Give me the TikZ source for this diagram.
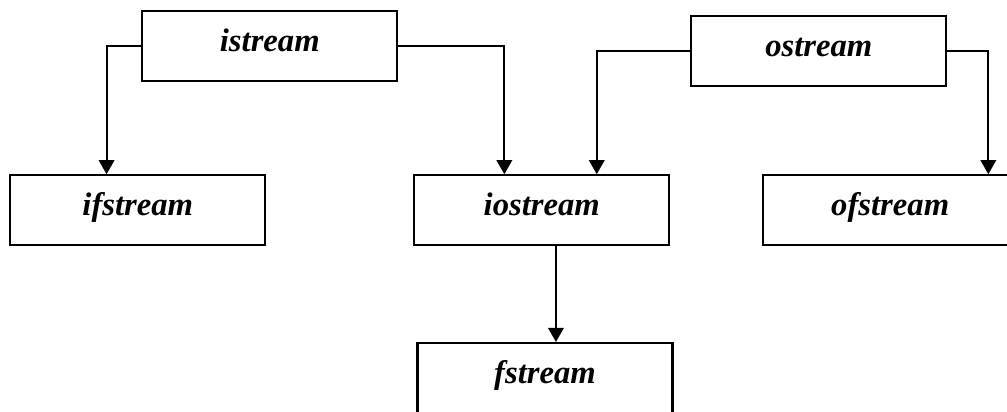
\documentclass[tikz,border=0pt]{standalone}
\usepackage{fontspec}
\setmainfont{Liberation Serif}
\usetikzlibrary{arrows.meta}
\begin{document}
\begin{tikzpicture}[x=0.75pt,y=-0.75pt,
  cls/.style={draw, line width=1.6pt, minimum width=191.25pt, minimum height=52.5pt,
    inner sep=0pt, text height=13pt, text depth=4.5pt,
    font=\fontsize{24.5}{28}\selectfont\bfseries\itshape},
  arr/.style={line width=1.6pt, -{Triangle[width=11.5pt,length=10.5pt]}}]
\useasboundingbox (0,0) rectangle (1007,411);
\clip (0,0) rectangle (1007,411);
\node[cls] (istream) at (269.8,46.3) {istream};
\node[cls] (ostream) at (818.8,50.8) {ostream};
\node[cls] (ifstream) at (137.8,210.3) {ifstream};
\node[cls] (iostream) at (541.8,210.3) {iostream};
\node[cls] (ofstream) at (890.2,210.3) {ofstream};
\node[cls] (fstream) at (545,378) {fstream};
\draw[arr] (istream.west) -| ([xshift=73pt]ifstream.north west);
\draw[arr] (istream.east) -| ([xshift=-28.1pt]iostream.north);
\draw[arr] (ostream.west) -| ([xshift=41.2pt]iostream.north);
\draw[arr] (ostream.east) -| ([xshift=73.6pt]ofstream.north);
\draw[arr] ([xshift=10.6pt]iostream.south) -- ([xshift=10.6pt]iostream.south |- fstream.north);
\end{tikzpicture}
\end{document}
